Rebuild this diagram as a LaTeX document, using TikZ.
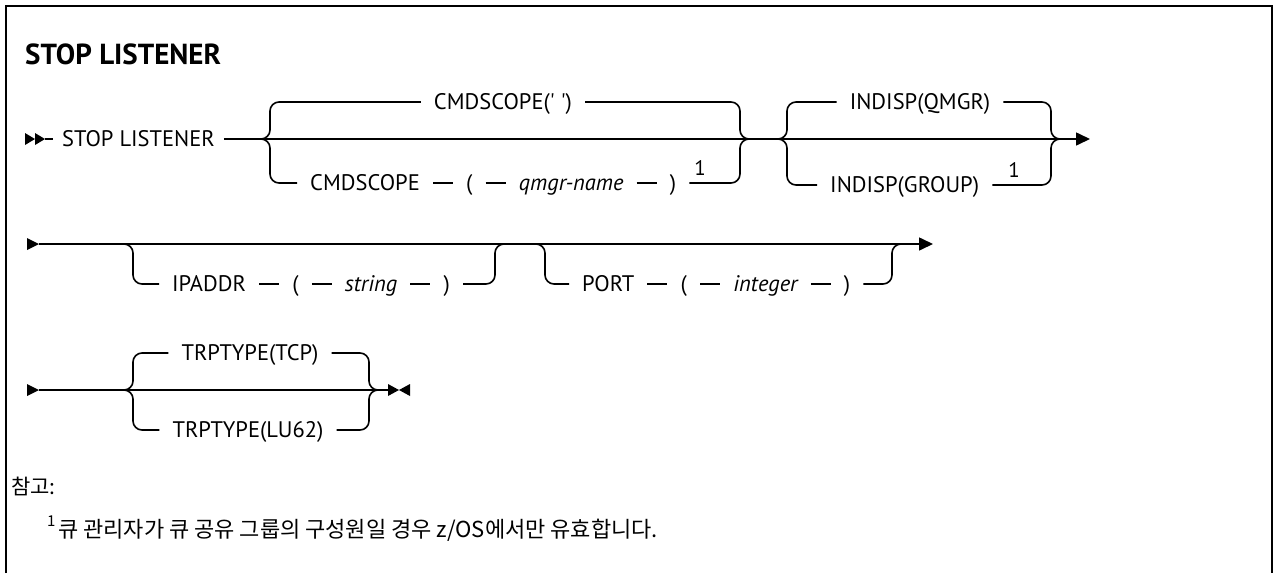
\documentclass[tikz,border=0pt]{standalone}
\usepackage{fontspec}
\setmainfont{PT Sans}
\newfontfamily\krfont{Noto Sans CJK KR}
\usetikzlibrary{arrows.meta,positioning}
\begin{document}
\begin{tikzpicture}[x=1pt,y=-1pt,
  ln/.style={line width=1.6pt},
  br/.style={line width=1.6pt, rounded corners=9pt},
  kw/.style={inner xsep=13pt, inner ysep=0pt, text height=15.7pt, text depth=0pt, font=\fontsize{22.5}{26}\selectfont},
  var/.style={kw, font=\fontsize{22.5}{26}\selectfont\itshape},
  fn/.style={inner sep=0pt, font=\fontsize{21}{24}\selectfont},
  arr/.style={line width=1.6pt, -{Triangle[length=14pt,width=13pt]}},
]
\useasboundingbox (0,0) rectangle (1274,573);
\draw[line width=2pt] (6,573) -- (6,6) -- (1272,6) -- (1272,573);

% title
\node[anchor=base west, inner sep=0pt, font=\fontsize{29}{33}\selectfont\bfseries] (title) at (25,64) {STOP LISTENER};

% ---------- row 1 ----------
\fill (25,133) -- (35,139) -- (25,145) -- cycle;
\fill (35,133) -- (45,139) -- (35,145) -- cycle;
\coordinate (s1) at (45,139);
\node[kw, anchor=west, inner xsep=9pt] (stop) at (53,139) {STOP LISTENER};
\draw[ln] (s1) -- (stop.west);
\coordinate (g1l) at (260,139);
\coordinate (g1r) at (750,139);
\coordinate (g2l) at (777,139);
\coordinate (g2r) at (1061,139);
\coordinate (e1) at (1090,139);
\draw[ln] (stop.east) -- (g1l) -- (g1r) -- (g2l) -- (g2r);
\draw[arr] (g2r) -- (e1);

% group 1
\node[kw] (cs0) at (503,102) {CMDSCOPE(\textquotesingle\ \textquotesingle)};
\draw[br] (g1l) -| (270,102) -- (cs0.west);
\draw[br] (cs0.east) -- (740,102) |- (g1r);
\node[kw, anchor=west] (cs1) at (297,183) {CMDSCOPE};
\node[kw, right=20pt of cs1] (lp1) {(};
\node[var, right=20pt of lp1] (qm) {qmgr-name};
\node[kw, right=20pt of qm] (rp1) {)};
\node[fn] (n1a) at (700,168) {1};
\draw[br] (g1l) -| (270,183) -- (cs1.west);
\draw[ln] (cs1) -- (lp1);
\draw[ln] (lp1) -- (qm);
\draw[ln] (qm) -- (rp1);
\draw[br] (rp1.east) -- (740,183) |- (g1r);

% group 2
\node[kw] (ind0) at (920,102) {INDISP(QMGR)};
\draw[br] (g2l) -| (787,102) -- (ind0.west);
\draw[br] (ind0.east) -- (1051,102) |- (g2r);
\node[kw, anchor=west] (ind1) at (817,185) {INDISP(GROUP)};
\node[fn] (n1b) at (1014,170) {1};
\draw[br] (g2l) -| (787,185) -- (ind1.west);
\draw[br] (ind1.east) -- (1051,185) |- (g2r);

% ---------- row 2 ----------
\fill (27,238) -- (39,244) -- (27,250) -- cycle;
\coordinate (s2) at (39,244);
\coordinate (hAl) at (123,244);
\coordinate (hAr) at (505,244);
\coordinate (hBl) at (535,244);
\coordinate (hBr) at (902,244);
\coordinate (e2) at (933,244);
\draw[ln] (s2) -- (hAl) -- (hAr) -- (hBl) -- (hBr);
\draw[arr] (hBr) -- (e2);

\node[kw, anchor=west] (ip) at (159,284) {IPADDR};
\node[kw, right=20pt of ip] (lp2) {(};
\node[var, right=20pt of lp2] (str) {string};
\node[kw, right=20pt of str] (rp2) {)};
\draw[br] (hAl) -| (133,284) -- (ip.west);
\draw[ln] (ip) -- (lp2);
\draw[ln] (lp2) -- (str);
\draw[ln] (str) -- (rp2);
\draw[br] (rp2.east) -- (495,284) |- (hAr);

\node[kw, anchor=west] (pt) at (569,284) {PORT};
\node[kw, right=20pt of pt] (lp3) {(};
\node[var, right=20pt of lp3] (int) {integer};
\node[kw, right=20pt of int] (rp3) {)};
\draw[br] (hBl) -| (545,284) -- (pt.west);
\draw[ln] (pt) -- (lp3);
\draw[ln] (lp3) -- (int);
\draw[ln] (int) -- (rp3);
\draw[br] (rp3.east) -- (892,284) |- (hBr);

% ---------- row 3 ----------
\fill (27,384) -- (39,390) -- (27,396) -- cycle;
\coordinate (s3) at (39,390);
\coordinate (jl) at (125,390);
\coordinate (jr) at (377,390);
\coordinate (e3) at (388,390);
\draw[ln] (s3) -- (jl) -- (jr) -- (e3);
\fill (388,384) -- (399,390) -- (388,396) -- cycle;
\fill (410,384) -- (399,390) -- (410,396) -- cycle;

\node[kw] (tcp) at (250,353) {TRPTYPE(TCP)};
\draw[br] (jl) -| (133,353) -- (tcp.west);
\draw[br] (tcp.east) -- (369,353) |- (jr);
\node[kw] (lu) at (248,430) {TRPTYPE(LU62)};
\draw[br] (jl) -| (133,430) -- (lu.west);
\draw[br] (lu.east) -- (369,430) |- (jr);

% ---------- notes ----------
\node[anchor=base west, inner sep=0pt, font=\krfont\fontsize{21}{24}\selectfont] (notes) at (11,494) {참고:};
\node[anchor=base west, inner sep=0pt, font=\krfont\fontsize{15}{18}\selectfont] (fnm) at (47,526) {1};
\node[anchor=base west, inner sep=0pt, font=\krfont\fontsize{22}{26}\selectfont] (ntext) at (58,537) {큐 관리자가 큐 공유 그룹의 구성원일 경우 z/OS에서만 유효합니다.};
\end{tikzpicture}
\end{document}
